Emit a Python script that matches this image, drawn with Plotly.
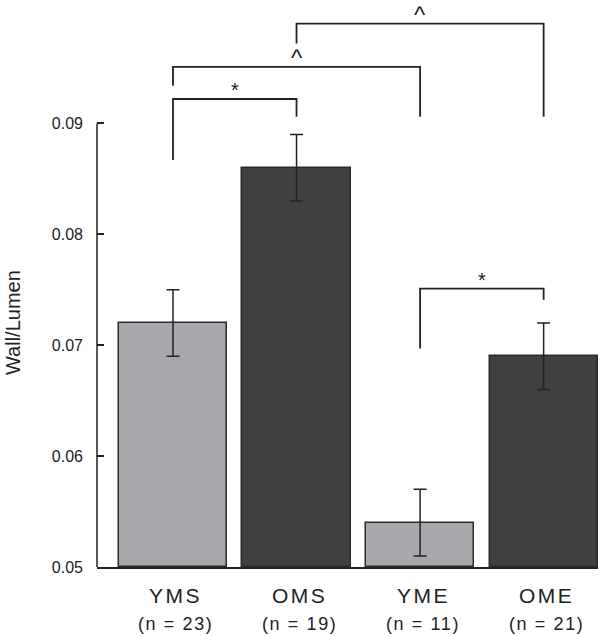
import plotly.graph_objects as go

categories = ["YMS", "OMS", "YME", "OME"]
n_labels = ["(n = 23)", "(n = 19)", "(n = 11)", "(n = 21)"]
values = [0.072, 0.086, 0.054, 0.069]
errors = [0.003, 0.003, 0.003, 0.003]
bar_colors = ["#a7a8ab", "#404040", "#a7a8ab", "#404040"]
y_ticks = [0.05, 0.06, 0.07, 0.08, 0.09]

# significance brackets: (left index, right index, top y, left leg bottom, right leg bottom, label, label y)
brackets = [
    (0, 1, 0.0922, 0.0867, 0.0906, "*", 0.0930),
    (0, 2, 0.0951, 0.0934, 0.0906, "^", 0.0959),
    (1, 3, 0.0990, 0.0972, 0.0906, "^", 0.0998),
    (2, 3, 0.0751, 0.0697, 0.0741, "*", 0.0759),
]

FONT = "Liberation Sans, Arial, sans-serif"
W, H = 606, 636
ML, MR, MT, MB = 97, 8, 10, 68.5
plot_h = H - MT - MB
plot_w = W - ML - MR

x = list(range(len(categories)))
fig = go.Figure()
fig.add_trace(go.Bar(
    x=x, y=[v - 0.05 for v in values], base=0.05,
    width=0.875,
    marker=dict(color=bar_colors, line=dict(color="#2b2b2b", width=1.5)),
    error_y=dict(type="data", array=errors, color="#222222", thickness=1.5, width=6.5),
    showlegend=False,
))

line_style = dict(color="#222222", width=1.8)
for (a, b, top, lb, rb, lab, ly) in brackets:
    fig.add_shape(type="path",
                  path=f"M {a} {lb} L {a} {top} L {b} {top} L {b} {rb}",
                  xref="x", yref="y", line=line_style)
    fig.add_annotation(x=(a + b) / 2, y=ly, text=lab, showarrow=False,
                       yanchor="middle", borderpad=0,
                       font=dict(size=20 if lab == "*" else 24, color="#222222", family=FONT))

# y axis line only from 0.05 to 0.09
fig.add_shape(type="line", xref="paper", yref="y", x0=0, x1=0, y0=0.05, y1=0.09,
              line=dict(color="#222222", width=1.5))

# category labels
for i, (c, n) in enumerate(zip(categories, n_labels)):
    fig.add_annotation(x=i, y=-29 / plot_h, xref="x", yref="paper",
                       text=f"<span style='letter-spacing:2.5px'>{c}</span>",
                       showarrow=False, yanchor="middle", xshift=3,
                       font=dict(size=21, family=FONT, color="#222222"))
    fig.add_annotation(x=i, y=-57 / plot_h, xref="x", yref="paper",
                       text=f"<span style='letter-spacing:1.6px'>{n}</span>",
                       showarrow=False, yanchor="middle", xshift=3,
                       font=dict(size=18, family=FONT, color="#222222"))

# y title
fig.add_annotation(x=-(ML - 13) / plot_w, y=0.0720, xref="paper", yref="y",
                   text="Wall/Lumen", textangle=-90, showarrow=False,
                   xanchor="center", yanchor="middle",
                   font=dict(size=20, family=FONT, color="#222222"))

top_val = 0.05 + plot_h / 11100.0
fig.update_layout(
    width=W, height=H,
    margin=dict(l=ML, r=MR, t=MT, b=MB, autoexpand=False),
    plot_bgcolor="white", paper_bgcolor="white",
    font=dict(family=FONT, color="#222222"),
    bargap=0,
    xaxis=dict(
        range=[-0.615, 3.44], tickvals=x, showticklabels=False,
        showline=True, linecolor="#222222", linewidth=1.5,
        ticks="", showgrid=False, zeroline=False, automargin=False,
    ),
    yaxis=dict(
        range=[0.05, top_val], tickvals=y_ticks,
        ticktext=[f"{t:.2f}" for t in y_ticks],
        tickfont=dict(size=16), ticks="inside", ticklen=7, tickwidth=1.5, tickcolor="#222222",
        ticklabelstandoff=13,
        showline=False, showgrid=False, zeroline=False, automargin=False,
    ),
)

fig.write_html("out.html", config={"displayModeBar": False},
               post_script="document.body.style.margin='0';")
